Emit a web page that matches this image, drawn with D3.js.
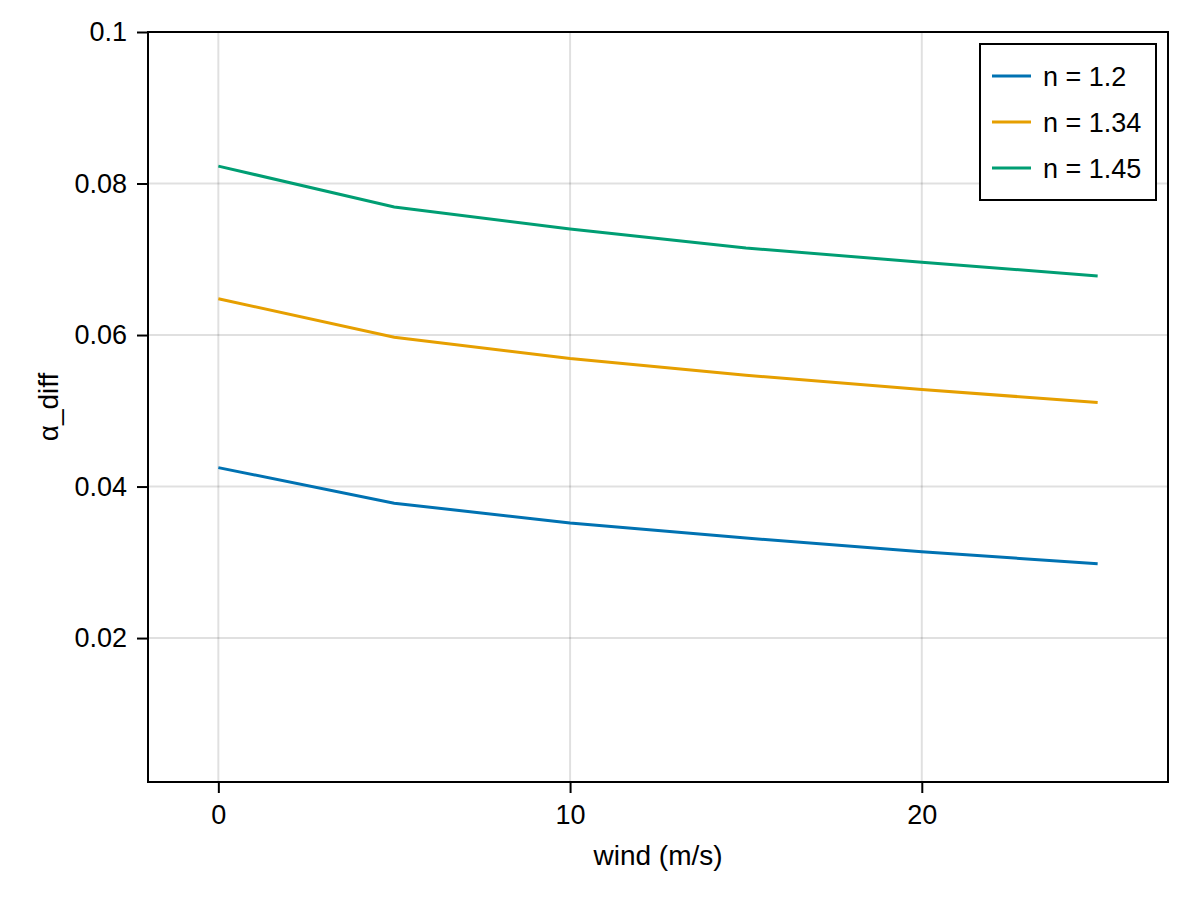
<!DOCTYPE html>
<html>
<head>
<meta charset="utf-8">
<script src="https://cdn.jsdelivr.net/npm/d3@7"></script>
<style>
  body { margin: 0; background: white; }
  svg { display: block; font-family: "Liberation Sans", Arial, sans-serif; }
</style>
</head>
<body>
<main></main>
<script>
// wind speeds (m/s)
const wind = [0, 5, 10, 15, 20, 25]

// alpha_diff for each refractive index
const alpha12 = [0.0425, 0.0378, 0.0352, 0.0332, 0.0314, 0.0298]
const alpha134 = [0.0648, 0.0597, 0.0569, 0.0547, 0.0528, 0.0511]
const alpha145 = [0.0823, 0.0769, 0.0740, 0.0715, 0.0696, 0.0678]

const seriesNames = ["n = 1.2", "n = 1.34", "n = 1.45"]
const seriesColors = ["#0072B2", "#E69F00", "#009E73"]

const xTicks = [0, 10, 20]
const yTicks = [0.02, 0.04, 0.06, 0.08, 0.1]
const yTickLabels = ["0.02", "0.04", "0.06", "0.08", "0.1"]

const svgWidth = 1200
const svgHeight = 900

const plotLeft = 148, plotRight = 1168, plotTop = 32, plotBottom = 782

let svg = d3.select("main")
    .append("svg")
    .attr("width", svgWidth)
    .attr("height", svgHeight)

/* scales */

let xScale = d3.scaleLinear()
    .domain([-2, 27])
    .range([plotLeft, plotRight])

let yScale = d3.scaleLinear()
    .domain([0.001, 0.1])
    .range([plotBottom, plotTop])

/* grid */

let grid = svg.append("g")

grid.selectAll(".vgrid")
    .data(xTicks)
    .enter()
    .append("line")
    .attr("x1", d => xScale(d))
    .attr("x2", d => xScale(d))
    .attr("y1", plotTop)
    .attr("y2", plotBottom)
    .attr("stroke", "rgba(0,0,0,0.12)")
    .attr("stroke-width", 2)

grid.selectAll(".hgrid")
    .data(yTicks)
    .enter()
    .append("line")
    .attr("x1", plotLeft)
    .attr("x2", plotRight)
    .attr("y1", d => yScale(d))
    .attr("y2", d => yScale(d))
    .attr("stroke", "rgba(0,0,0,0.12)")
    .attr("stroke-width", 2)

/* lines */

let series = [alpha12, alpha134, alpha145]

let line = d3.line()
    .x((d, i) => xScale(wind[i]))
    .y(d => yScale(d))

svg.append("g")
    .selectAll("path")
    .data(series)
    .enter()
    .append("path")
    .attr("d", d => line(d))
    .attr("fill", "none")
    .attr("stroke", (d, i) => seriesColors[i])
    .attr("stroke-width", 3)

/* frame */

svg.append("rect")
    .attr("x", plotLeft)
    .attr("y", plotTop)
    .attr("width", plotRight - plotLeft)
    .attr("height", plotBottom - plotTop)
    .attr("fill", "none")
    .attr("stroke", "black")
    .attr("stroke-width", 2)

/* axes */

let bottomAxis = d3.axisBottom(xScale)
    .tickValues(xTicks)
    .tickFormat(d3.format("d"))
    .tickSize(11)
    .tickPadding(12)

let xAxis = svg.append("g")
    .attr("transform", `translate(0, ${plotBottom})`)
    .call(bottomAxis)

let leftAxis = d3.axisLeft(yScale)
    .tickValues(yTicks)
    .tickFormat((d, i) => yTickLabels[i])
    .tickSize(11)
    .tickPadding(10)

let yAxis = svg.append("g")
    .attr("transform", `translate(${plotLeft}, 0)`)
    .call(leftAxis)

for (let ax of [xAxis, yAxis]) {
    ax.select(".domain").remove()
    ax.selectAll("line")
        .attr("stroke", "black")
        .attr("stroke-width", 2)
    ax.selectAll("text")
        .attr("fill", "black")
        .style("font-size", "27px")
        .style("font-family", "Liberation Sans, Arial, sans-serif")
}

/* axis labels */

svg.append("text")
    .attr("x", (plotLeft + plotRight) / 2)
    .attr("y", 865)
    .attr("text-anchor", "middle")
    .style("font-size", "28px")
    .text("wind (m/s)")

svg.append("text")
    .attr("transform", `translate(58, ${(plotTop + plotBottom) / 2}) rotate(-90)`)
    .attr("text-anchor", "middle")
    .style("font-size", "28px")
    .text("α_diff")

/* legend */

let legend = svg.append("g")

legend.append("rect")
    .attr("x", 980)
    .attr("y", 44)
    .attr("width", 176)
    .attr("height", 156)
    .attr("fill", "white")
    .attr("stroke", "black")
    .attr("stroke-width", 2)

let rows = legend.selectAll(".row")
    .data(seriesNames)
    .enter()
    .append("g")
    .attr("transform", (d, i) => `translate(992, ${76 + i * 46})`)

rows.append("line")
    .attr("x1", 0)
    .attr("x2", 39)
    .attr("stroke", (d, i) => seriesColors[i])
    .attr("stroke-width", 3)

rows.append("text")
    .attr("x", 51)
    .attr("dy", "0.36em")
    .style("font-size", "27px")
    .text(d => d)
</script>
</body>
</html>
